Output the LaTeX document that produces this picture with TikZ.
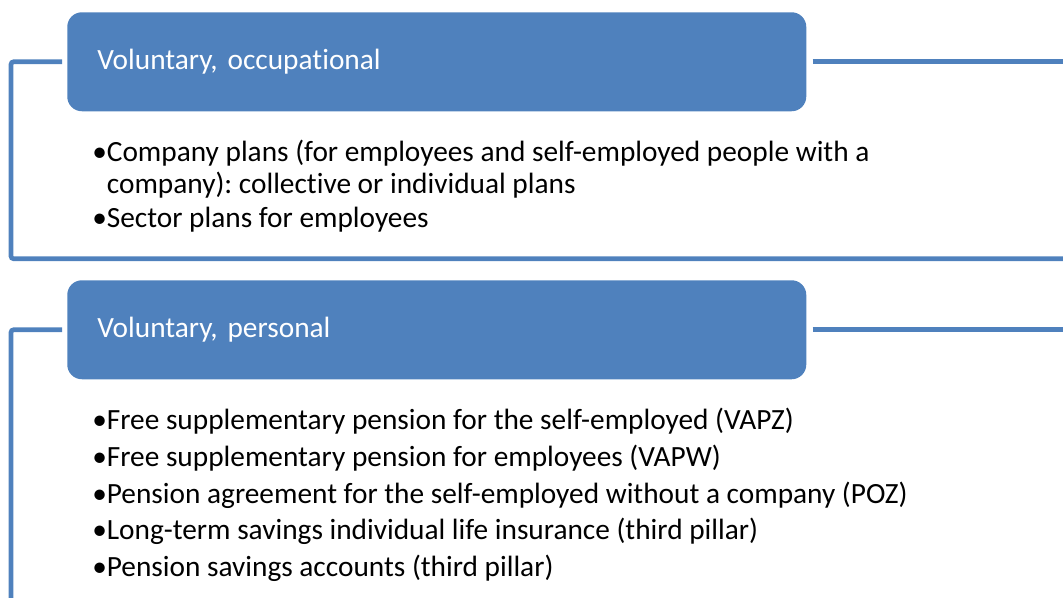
\documentclass[tikz,border=0pt]{standalone}
\usepackage{fontspec}
\setmainfont{Carlito}[Ligatures=NoCommon]
\usetikzlibrary{calc}
\definecolor{oblue}{HTML}{4F81BD}
\tikzset{
  hdr/.style={fill=oblue, draw=none, rounded corners=11pt, anchor=north west,
    minimum width=554.25pt, minimum height=74.25pt, inner xsep=22.5pt,
    text width=509.25pt, align=left, text=white, font=\fontsize{22}{26}\selectfont},
  frame/.style={draw=oblue, line width=3.5pt, rounded corners=2pt},
  item/.style={anchor=base west, inner sep=0pt, font=\fontsize{22}{26}\selectfont}
}
\begin{document}
\frenchspacing
\begin{tikzpicture}[x=0.75pt,y=-0.75pt]
\useasboundingbox (0,0) rectangle (1063,598);
\begin{scope}
\clip (0,0) rectangle (1063,598);
% group 1
\node[hdr] (h1) at (67,12) {Voluntary, occupational};
\coordinate (f1a) at ($(h1.west)+(-5,0)$);
\coordinate (f1b) at ($(h1.east)+(6,0)$);
\coordinate (f1c) at ($(h1.east)+(270,0)$);
\coordinate (f1d) at ($(h1.west)+(-56,0)$);
\draw[frame] (f1a) -- (f1d) -- ++(0,197) -- ++(1080,0);
\draw[frame] (f1b) -- (f1c);
\node[item] (t11) at (92,162) {•Company plans (for employees and self-employed people with a};
\node[item] (t12) at (92,194) {\hphantom{•}company): collective or individual plans};
\node[item] (t13) at (92,228) {•Sector plans for employees};
% group 2
\node[hdr] (h2) at (67,280) {Voluntary, personal};
\coordinate (f2a) at ($(h2.west)+(-5,0)$);
\coordinate (f2b) at ($(h2.east)+(6,0)$);
\coordinate (f2c) at ($(h2.east)+(270,0)$);
\coordinate (f2d) at ($(h2.west)+(-56,0)$);
\draw[frame] (f2a) -- (f2d) -- ++(0,300);
\draw[frame] (f2b) -- (f2c);
\node[item] (t21) at (92,429) {•Free supplementary pension for the self-employed (VAPZ)};
\node[item] (t22) at (92,466) {•Free supplementary pension for employees (VAPW)};
\node[item] (t23) at (92,503) {•Pension agreement for the self-employed without a company (POZ)};
\node[item] (t24) at (92,539) {•Long-term savings individual life insurance (third pillar)};
\node[item] (t25) at (92,576) {•Pension savings accounts (third pillar)};
\end{scope}
\end{tikzpicture}
\end{document}
